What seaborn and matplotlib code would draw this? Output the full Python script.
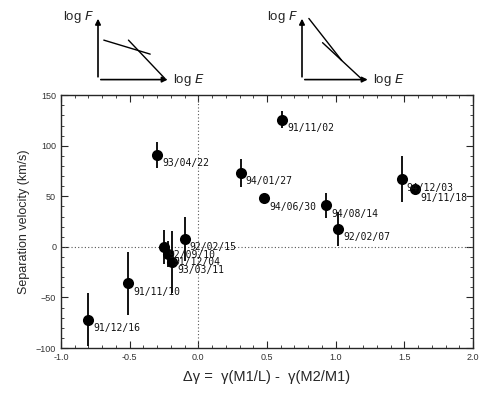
import numpy as np
import pandas as pd
import matplotlib
matplotlib.use('Agg')
import matplotlib.pyplot as plt
import seaborn as sns

# data
labels = ['91/11/02', '93/04/22', '94/01/27', '94/06/30', '94/08/14', '92/02/07',
          '94/12/03', '91/11/18', '92/02/15', '92/09/10', '91/12/04', '93/03/11',
          '91/11/10', '91/12/16']
dgamma = [0.61, -0.30, 0.31, 0.48, 0.93, 1.02, 1.48, 1.58, -0.10, -0.25, -0.22, -0.19, -0.51, -0.80]
velocity = [126, 91, 73, 48, 41, 18, 67, 57, 8, 0, -7, -15, -36, -72]
vel_err = [8, 13, 14, 0, 12, 17, 23, 0, 22, 17, 13, 31, 31, 26]

# schematic insets (axes units 0..1)
left_line1_x = [0.08, 0.72]
left_line1_y = [0.62, 0.40]
left_line2_x = [0.42, 0.92]
left_line2_y = [0.62, 0.02]
right_line1_x = [0.10, 0.58]
right_line1_y = [0.96, 0.30]
right_line2_x = [0.30, 0.86]
right_line2_y = [0.58, 0.02]

df = pd.DataFrame({'dg': dgamma, 'v': velocity, 'err': vel_err, 'lab': labels})

sns.set_style('ticks')
plt.rcParams['font.family'] = ['Liberation Sans', 'DejaVu Sans']

fig = plt.figure(figsize=(5.0, 3.98), dpi=100)
ax = fig.add_axes([0.122, 0.1256, 0.824, 0.635])

ax.axhline(0, color='#555555', lw=0.8, ls=(0, (1, 2)))
ax.axvline(0, color='#555555', lw=0.8, ls=(0, (1, 2)))
ax.errorbar(df['dg'], df['v'], yerr=df['err'], fmt='none', ecolor='black', elinewidth=1.3, capsize=0)
sns.scatterplot(data=df, x='dg', y='v', ax=ax, color='black', s=64, edgecolor='black', linewidth=0, zorder=3)

for _, r in df.iterrows():
    ax.annotate(r['lab'], (r['dg'], r['v']), xytext=(3.5, -6), textcoords='offset points',
                ha='left', va='center', fontsize=7.0, family='DejaVu Sans Mono', color='#111111')

ax.set_xlim(-1.0, 2.0)
ax.set_ylim(-100, 150)
ax.set_xticks(np.arange(-1.0, 2.01, 0.5))
ax.set_xticklabels(['-1.0', '-0.5', '0.0', '0.5', '1.0', '1.5', '2.0'])
ax.set_yticks(np.arange(-100, 151, 50))
ax.set_xticks(np.arange(-1.0, 2.01, 0.1), minor=True)
ax.set_yticks(np.arange(-100, 151, 10), minor=True)
ax.tick_params(which='both', direction='in', top=True, right=True, labelsize=6.5, labelcolor='#333333')
ax.tick_params(which='major', length=5, width=0.8)
ax.tick_params(which='minor', length=2.5, width=0.6)
for s in ax.spines.values():
    s.set_linewidth(1.0)
ax.set_xlabel('\u0394\u03b3 =  \u03b3(M1/L) -  \u03b3(M2/M1)', fontsize=10.5)
ax.set_ylabel('Separation velocity (km/s)', fontsize=9)
ax.xaxis.labelpad = 6


def schematic(rect, lx1, ly1, lx2, ly2):
    a = fig.add_axes(rect)
    a.set_xlim(0, 1)
    a.set_ylim(0, 1)
    a.axis('off')
    a.annotate('', xy=(0, 1.0), xytext=(0, 0), arrowprops=dict(arrowstyle='-|>', lw=1.2, color='black', mutation_scale=8))
    a.annotate('', xy=(1.0, 0), xytext=(0, 0), arrowprops=dict(arrowstyle='-|>', lw=1.2, color='black', mutation_scale=8))
    a.plot(lx1, ly1, color='black', lw=1.0)
    a.plot(lx2, ly2, color='black', lw=1.0)
    a.text(-0.05, 0.98, 'log $\\it{F}$', ha='right', va='center', fontsize=9.5)
    a.text(1.04, 0.0, 'log $\\it{E}$', ha='left', va='center', fontsize=9.5)
    return a


schematic([0.196, 0.80, 0.145, 0.16], left_line1_x, left_line1_y, left_line2_x, left_line2_y)
schematic([0.604, 0.80, 0.137, 0.16], right_line1_x, right_line1_y, right_line2_x, right_line2_y)

fig.savefig('out.png', dpi=100)
